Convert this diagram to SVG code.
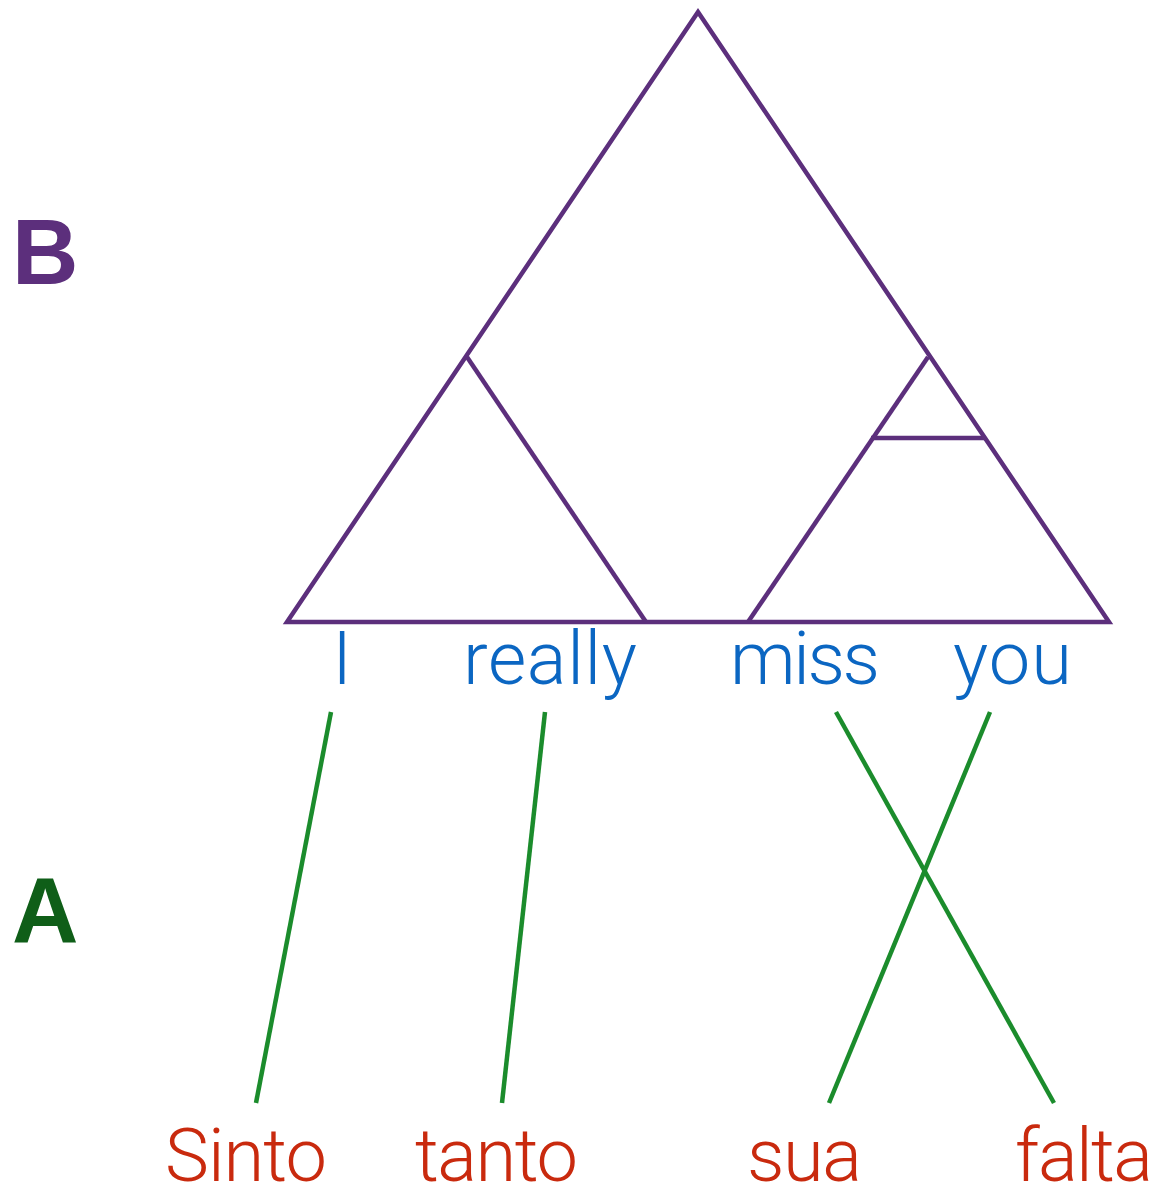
<svg xmlns="http://www.w3.org/2000/svg" width="1176" height="1199" viewBox="0 0 1176 1199">
<style>
.tree{fill:none;stroke:#5c2f7c;stroke-width:4.5;stroke-linejoin:miter}
.link{stroke:#1b8c2c;stroke-width:4.5;fill:none}
.en{font-family:Roboto,"Liberation Sans",sans-serif;font-weight:300;font-size:74px;fill:#0b66c2}
.pt{font-family:Roboto,"Liberation Sans",sans-serif;font-weight:300;font-size:74px;fill:#c92a0e}
.lab{font-family:"Liberation Sans",Arial,sans-serif;font-weight:bold;font-size:92px}
</style>
<rect width="1176" height="1199" fill="#fff"/>
<g id="labelB"><text class="lab" x="12" y="284" fill="#5c2f7c">B</text></g>
<g id="labelA"><text class="lab" x="12" y="942" fill="#0f5e18">A</text></g>
<g id="treeB">
<polygon class="tree" points="698,12 1109,622 287,622"/>
<polyline class="tree" points="467,357 646,622"/>
<polyline class="tree" points="928,357 748,622"/>
<line class="tree" x1="871" y1="438" x2="985" y2="438"/>
</g>
<g id="english">
<text class="en" x="342" y="684" text-anchor="middle">I</text>
<text class="en" x="463" y="684" textLength="174">really</text>
<text class="en" x="730" y="684" textLength="150">miss</text>
<text class="en" x="953" y="684" textLength="119">you</text>
</g>
<g id="portuguese">
<text class="pt" x="165" y="1181" textLength="162">Sinto</text>
<text class="pt" x="415" y="1181" textLength="163">tanto</text>
<text class="pt" x="747" y="1181" textLength="115">sua</text>
<text class="pt" x="1015" y="1181" textLength="138">falta</text>
</g>
<g id="connectors">
<line class="link" x1="331" y1="712" x2="256" y2="1103"/>
<line class="link" x1="545" y1="712" x2="502" y2="1103"/>
<line class="link" x1="836" y1="712" x2="1054" y2="1103"/>
<line class="link" x1="990" y1="712" x2="829" y2="1103"/>
</g>
</svg>
